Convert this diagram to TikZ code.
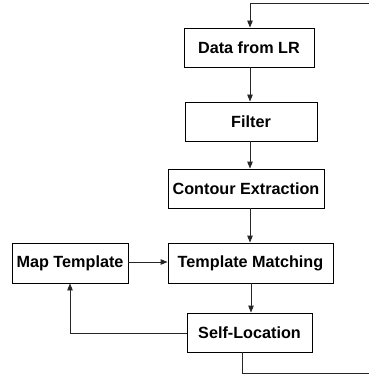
\documentclass[tikz,border=0pt]{standalone}
\usepackage{fontspec}
\setmainfont{Liberation Sans}
\usetikzlibrary{arrows.meta}
\begin{document}
\begin{tikzpicture}[x=1pt,y=-1pt,
  box/.style={draw=black,line width=0.9pt,minimum height=39pt,inner sep=0pt,font=\fontsize{16.2}{19}\selectfont\bfseries},
  conn/.style={draw=black!85,line width=0.9pt},
  arr/.style={conn,-{Triangle[length=7pt,width=5.5pt]}}]
\useasboundingbox (0,0) rectangle (368,374);
\node[box,minimum width=130pt] (data) at (249,47.5) {Data from LR};
\node[box,minimum width=132pt] (filter) at (251,121.5) {Filter};
\node[box,minimum width=156pt] (contour) at (246,188.5) {Contour Extraction};
\node[box,minimum width=116pt,minimum height=40pt] (map) at (70,263) {Map Template};
\node[box,minimum width=165pt,minimum height=40pt] (tm) at (250.5,263) {Template Matching};
\node[box,minimum width=125pt] (sl) at (249.5,332.5) {Self-Location};
\coordinate (c1) at (242,373);
\coordinate (c2) at (372,373);
\coordinate (c3) at (372,3);
\coordinate (c4) at (250,3);
\draw[arr] (data.south -| 250,0) -- (filter.north -| 250,0);
\draw[arr] (filter.south -| 250,0) -- (contour.north -| 250,0);
\draw[arr] (contour.south -| 250,0) -- (tm.north -| 250,0);
\draw[arr] (tm.south -| 251,0) -- (sl.north -| 251,0);
\draw[arr] (map.east |- 0,262) -- (tm.west |- 0,262);
\draw[arr] (sl.west |- 0,333) -| (map.south -| 70,0);
\draw[arr] (sl.south -| c1) -- (c1) -- (c2) -- (c3) -- (c4) -- (data.north -| c4);
\end{tikzpicture}
\end{document}
